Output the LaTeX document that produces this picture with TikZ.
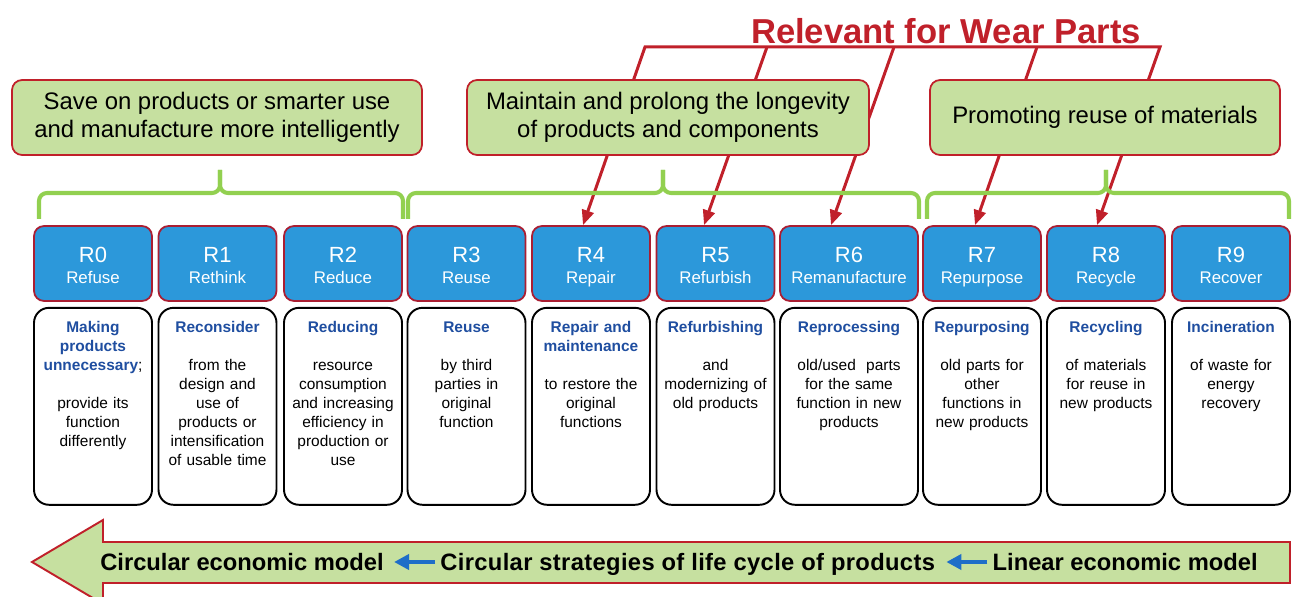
\documentclass[tikz,border=0pt]{standalone}
\usepackage{fontspec}
\setmainfont{Liberation Sans}
\usetikzlibrary{shapes,arrows.meta,positioning}

\definecolor{wearred}{RGB}{192,32,42}
\definecolor{leaf}{RGB}{198,224,160}
\definecolor{bracegreen}{RGB}{146,208,80}
\definecolor{rblue}{RGB}{44,152,218}
\definecolor{rborder}{RGB}{170,30,50}
\definecolor{headblue}{RGB}{31,78,160}
\definecolor{modelblue}{RGB}{30,110,200}

\newcommand{\rlabel}[2]{\rule{0pt}{13pt}#1\\{\fontsize{9.6}{11}\selectfont #2\vphantom{p}}}
\newcommand{\rhead}[1]{\textcolor{headblue}{\bfseries #1}}

\begin{document}
\begin{tikzpicture}[x=0.02cm, y=-0.02cm, node distance = 0.1cm, auto]
    % Styles
    \tikzstyle{rblock} = [rectangle, draw=rborder, line width=1pt, fill=rblue,
    text=white, align=center, rounded corners=0.2cm, minimum width=2.36cm,
    minimum height=1.5cm, font=\fontsize{12.5}{12.2}\selectfont]
    \tikzstyle{descblock} = [rectangle, draw, line width=1.1pt, rounded corners=0.3cm,
    text width=2.24cm, align=center, inner xsep=0.06cm, inner ysep=0.1cm,
    text height=0.4cm, text depth=3.34cm, font=\fontsize{8.8}{10.8}\selectfont]
    \tikzstyle{aimblock} = [rectangle, draw=wearred, line width=1pt, fill=leaf,
    rounded corners=0.2cm, minimum height=1.5cm, align=center,
    font=\fontsize{13.6}{15.9}\selectfont]
    \tikzstyle{wear} = [draw=wearred, line width=1.7pt,
    arrows={-Triangle[length=0.3cm, width=0.24cm]}]
    \tikzstyle{bracket} = [draw=bracegreen, line width=2.3pt, rounded corners=0.16cm]
    \tikzstyle{modeltext} = [font=\fontsize{13.5}{16}\selectfont\bfseries, inner sep=0pt]
    \tikzstyle{modelarrow} = [draw=modelblue, line width=2.5pt,
    -{Triangle[length=0.3cm, width=0.3cm]}]

    \useasboundingbox (0,0) rectangle (1292,597);

    % R strategies
    \node [rblock] (r0) at (93,263.5) {\rlabel{R0}{Refuse}};
    \node [rblock] (r1) at (217.5,263.5) {\rlabel{R1}{Rethink}};
    \node [rblock] (r2) at (343,263.5) {\rlabel{R2}{Reduce}};
    \node [rblock] (r3) at (466.5,263.5) {\rlabel{R3}{Reuse}};
    \node [rblock] (r4) at (591,263.5) {\rlabel{R4}{Repair}};
    \node [rblock] (r5) at (715.5,263.5) {\rlabel{R5}{Refurbish}};
    \node [rblock, minimum width=2.76cm] (r6) at (849,263.5) {\rlabel{R6}{Remanufacture}};
    \node [rblock] (r7) at (982,263.5) {\rlabel{R7}{Repurpose}};
    \node [rblock] (r8) at (1106,263.5) {\rlabel{R8}{Recycle}};
    \node [rblock] (r9) at (1231,263.5) {\rlabel{R9}{Recover}};

    \node [descblock, below = of r0] (d0) {\rhead{Making\\products\\unnecessary};\\[10.8pt]provide its\\function\\differently};
    \node [descblock, below = of r1] (d1) {\rhead{Reconsider}\\[10.8pt]from the\\design and\\use of\\products or\\intensification\\of usable time};
    \node [descblock, below = of r2] (d2) {\rhead{Reducing}\\[10.8pt]resource\\consumption\\and increasing\\efficiency in\\production or\\use};
    \node [descblock, below = of r3] (d3) {\rhead{Reuse}\\[10.8pt]by third\\parties in\\original\\function};
    \node [descblock, below = of r4] (d4) {\rhead{Repair and\\maintenance}\\[10.8pt]to restore the\\original\\functions};
    \node [descblock, below = of r5] (d5) {\rhead{Refurbishing}\\[10.8pt]and\\modernizing of\\old products};
    \node [descblock, below = of r6, text width=2.64cm] (d6) {\rhead{Reprocessing}\\[10.8pt]old/used\ \ parts\\for the same\\function in new\\products};
    \node [descblock, below = of r7] (d7) {\rhead{Repurposing}\\[10.8pt]old parts for\\other\\functions in\\new products};
    \node [descblock, below = of r8] (d8) {\rhead{Recycling}\\[10.8pt]of materials\\for reuse in\\new products};
    \node [descblock, below = of r9] (d9) {\rhead{Incineration}\\[10.8pt]of waste for\\energy\\recovery};

    % Relevant for wear parts
    \node [text=wearred, font=\fontsize{19.7}{22}\selectfont\bfseries] (wear) at (946,31) {Relevant for Wear Parts};
    \coordinate (w4) at (645,47);
    \coordinate (w5) at (767,47);
    \coordinate (w6) at (894,47);
    \coordinate (w7) at (1037,47);
    \coordinate (w8) at (1160,47);
    \draw [wear, arrows={Triangle[length=0.3cm, width=0.24cm]-Triangle[length=0.3cm, width=0.24cm]}]
        ([xshift=-0.16cm]r4.north) -- (w4) -- (w8) -- ([xshift=-0.18cm]r8.north);
    \draw [wear] (w5) -- ([xshift=-0.23cm]r5.north);
    \draw [wear] (w6) -- ([xshift=-0.36cm]r6.north);
    \draw [wear] (w7) -- ([xshift=-0.14cm]r7.north);

    % Groups
    \node [aimblock, minimum width=8.2cm] (save) at (217,117.5) {Save on products or smarter use\\and manufacture more intelligently};
    \node [aimblock, minimum width=8.04cm] (keep) at (668,117.5) {Maintain and prolong the longevity\\of products and components};
    \node [aimblock, minimum width=7cm] (reuse) at (1105,117.5) {Promoting reuse of materials};

    \draw [bracket] (39,219) |- (220,193) -- (220,170);
    \draw [bracket] (403,219) |- (220,193) -- (220,170);
    \draw [bracket] (408,219) |- (663,193) -- (663,170);
    \draw [bracket] (919,219) |- (663,193) -- (663,170);
    \draw [bracket] (927,219) |- (1106,193) -- (1106,170);
    \draw [bracket] (1289,219) |- (1106,193) -- (1106,170);

    % Economic model arrow
    \draw [draw=wearred, line width=1.1pt, fill=leaf] (32,562) -- (103,520) -- (103,542) -- (1290,542)
        -- (1290,583) -- (103,583) -- (103,604) -- cycle;
    \node [modeltext] (circ) at (242,562) {Circular economic model};
    \node [modeltext, base right = 1.12cm of circ] (life) {\addfontfeatures{LetterSpace=1.5}Circular strategies of life cycle of products};
    \node [modeltext, base right = 1.14cm of life] (lin) {Linear economic model};
    \draw [modelarrow, shorten <=0.1cm, shorten >=0.2cm] (life.west |- circ) -- (circ.east);
    \draw [modelarrow, shorten <=0.1cm, shorten >=0.22cm] (lin.west) -- (life.east |- lin.west);
\end{tikzpicture}
\end{document}
